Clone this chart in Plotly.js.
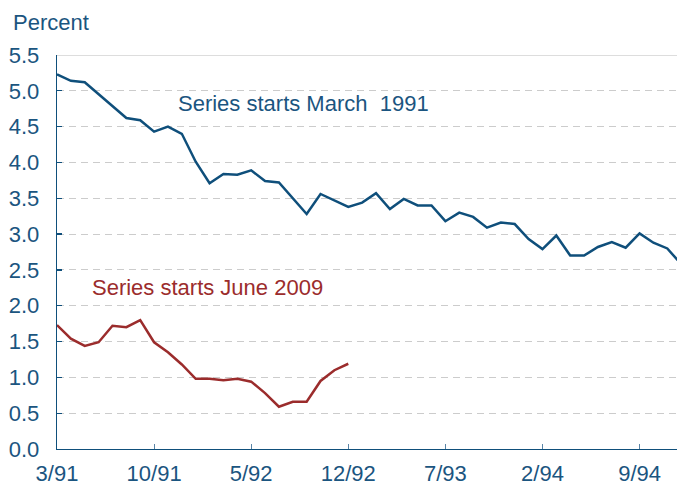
<!DOCTYPE html>
<html>
<head>
<meta charset="utf-8">
<script src="https://cdn.plot.ly/plotly-3.0.1.min.js"></script>
<style>html,body{margin:0;padding:0;background:#fff;}#chart{width:677px;height:482px;}</style>
</head>
<body>
<div id="chart"></div>
<script>
// Months since start of series (index 0 = first month)
const tickPositions = [0, 7, 14, 21, 28, 35, 42];
const tickLabels = ["3/91", "10/91", "5/92", "12/92", "7/93", "2/94", "9/94"];

const series1991 = [5.23, 5.14, 5.12, 4.95, 4.78, 4.62, 4.59, 4.43, 4.50, 4.40,
  4.01, 3.71, 3.84, 3.83, 3.89, 3.74, 3.72, 3.50, 3.28, 3.56,
  3.47, 3.38, 3.44, 3.57, 3.35, 3.49, 3.40, 3.40, 3.18, 3.30,
  3.24, 3.09, 3.16, 3.14, 2.93, 2.79, 2.98, 2.70, 2.70, 2.82,
  2.89, 2.81, 3.01, 2.88, 2.80, 2.58];
const series2009 = [1.73, 1.54, 1.44, 1.49, 1.72, 1.70, 1.80, 1.49, 1.35, 1.18,
  0.98, 0.98, 0.96, 0.98, 0.94, 0.78, 0.59, 0.66, 0.66, 0.95,
  1.10, 1.19];

const idx = a => a.map((_, i) => i);
const textColor = "#1b5580";
const blue = "#0f4f7b";
const red = "#9b2c2c";

const traces = [
  {x: idx(series1991), y: series1991, type: "scatter", mode: "lines",
   line: {color: blue, width: 2.5}, hoverinfo: "skip"},
  {x: idx(series2009), y: series2009, type: "scatter", mode: "lines",
   line: {color: red, width: 2.5}, hoverinfo: "skip"}
];

const font = {family: "Liberation Sans, Arial, sans-serif", size: 22, color: textColor};

const layout = {
  width: 677, height: 482,
  margin: {l: 57, r: 0, t: 55, b: 33},
  paper_bgcolor: "#fff", plot_bgcolor: "#fff",
  showlegend: false,
  font: font,
  xaxis: {
    range: [0, 44.7], tickvals: tickPositions, ticktext: tickLabels,
    showgrid: false, zeroline: false,
    showline: true, linecolor: blue, linewidth: 1.3,
    ticks: "inside", ticklen: 5, tickcolor: "#5a84a6", tickwidth: 1,
    tickfont: font, ticklabelstandoff: 4
  },
  yaxis: {
    range: [0, 5.5], dtick: 0.5, tick0: 0, tickformat: ".1f",
    showgrid: true, gridcolor: "#cccccc", gridwidth: 1, griddash: "7px,5px",
    zeroline: false, showline: true, linecolor: blue, linewidth: 1.3,
    ticks: "inside", ticklen: 5, tickcolor: blue, tickwidth: 1.3,
    tickfont: font, ticklabelstandoff: 12
  },
  shapes: [
    {type: "line", xref: "paper", yref: "y", x0: 0, x1: 1, y0: 5.5, y1: 5.5,
     line: {color: "#bbbbbb", width: 1}}
  ],
  annotations: [
    {text: "Percent", xref: "paper", yref: "paper", x: -0.075, y: 1.0825,
     xanchor: "left", yanchor: "middle", showarrow: false, font: font},
    {text: "Series starts March  1991", xref: "x", yref: "y", x: 8.55, y: 4.82,
     xanchor: "left", yanchor: "middle", showarrow: false, font: font},
    {text: "Series starts June 2009", xref: "x", yref: "y", x: 2.4, y: 2.26,
     xanchor: "left", yanchor: "middle", showarrow: false,
     font: {family: font.family, size: 22, color: red}}
  ]
};

Plotly.newPlot("chart", traces, layout, {displayModeBar: false, staticPlot: true});
</script>
</body>
</html>
